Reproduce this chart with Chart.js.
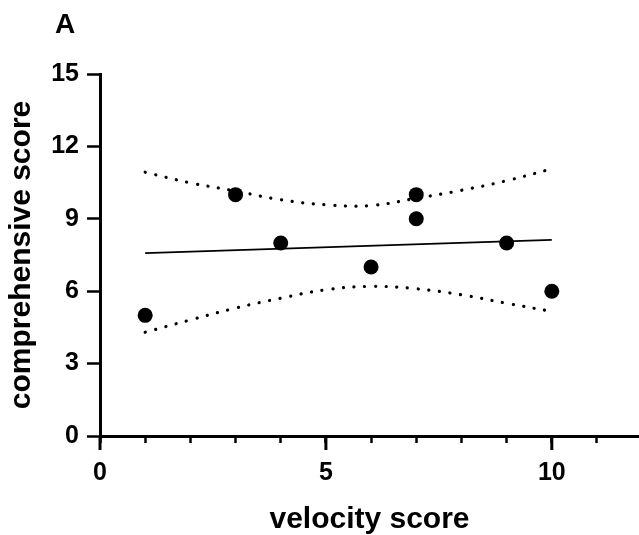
<!DOCTYPE html>
<html>
<head>
<meta charset="utf-8">
<script src="https://cdn.jsdelivr.net/npm/chart.js@4"></script>
<style>
  html, body { margin: 0; padding: 0; background: #fff; }
  canvas { display: block; }
</style>
</head>
<body>
<canvas id="chart" width="639" height="535"></canvas>
<script>
    // observed scores
    const velocity = [1, 3, 4, 6, 7, 7, 9, 10];
    const comprehensive = [5, 10, 8, 7, 10, 9, 8, 6];

    // fitted line
    const fitX = [1, 10];
    const fitY = [7.58, 8.13];

    // dotted bands
    const bandX = [1, 2, 3, 4, 5, 6, 7, 8, 9, 10];
    const upperBand = [10.93, 10.49, 10.15, 9.79, 9.58, 9.55, 9.85, 10.18, 10.58, 11.07];
    const lowerBand = [4.3, 4.81, 5.3, 5.71, 6.06, 6.2, 6.1, 5.85, 5.5, 5.16];

    const majorX = [0, 5, 10];
    const font = "'Liberation Sans', Arial, sans-serif";

    const pts = (xs, ys) => xs.map((x, i) => ({ x, y: ys[i] }));

    const band = (data) => ({
      data, showLine: true, pointRadius: 0, borderColor: "#000", borderWidth: 3.2,
      borderDash: [0.1, 10.6], borderCapStyle: "round", tension: 0.4, fill: false
    });

    const extras = {
      id: "extras",
      afterDraw(chart) {
        const { ctx, chartArea, scales } = chart;
        ctx.save();
        ctx.strokeStyle = "#000";
        ctx.lineWidth = 3;
        majorX.forEach(v => {
          const px = scales.x.getPixelForValue(v);
          ctx.beginPath();
          ctx.moveTo(px, chartArea.bottom);
          ctx.lineTo(px, chartArea.bottom + 14);
          ctx.stroke();
        });
        ctx.fillStyle = "#000";
        ctx.font = "bold 28px " + font;
        ctx.textBaseline = "alphabetic";
        ctx.fillText("A", 55, 33);
        ctx.restore();
      }
    };

    new Chart(document.getElementById("chart"), {
      type: "scatter",
      data: {
        datasets: [
          { data: pts(velocity, comprehensive), pointRadius: 7.5, pointBackgroundColor: "#000", pointBorderWidth: 0 },
          { data: pts(fitX, fitY), showLine: true, pointRadius: 0, borderColor: "#000", borderWidth: 1.8 },
          band(pts(bandX, upperBand)),
          band(pts(bandX, lowerBand))
        ]
      },
      options: {
        responsive: false,
        animation: false,
        layout: { autoPadding: false, padding: { left: 0, right: 0, top: 74, bottom: 0 } },
        plugins: { legend: { display: false }, tooltip: { enabled: false } },
        scales: {
          x: {
            type: "linear", min: 0, max: 11.93,
            afterFit: s => { s.height = 99; s.paddingLeft = 0; s.paddingRight = 0; },
            border: { color: "#000", width: 3 },
            grid: { drawOnChartArea: false, tickLength: 7, tickWidth: 2.5, tickColor: "#000" },
            ticks: {
              stepSize: 1, includeBounds: false, autoSkip: false, maxRotation: 0, padding: 15,
              color: "#000", font: { family: font, size: 25, weight: "bold" },
              callback: v => v % 5 === 0 ? v : ""
            },
            title: {
              display: true, text: "velocity score", color: "#000",
              font: { family: font, size: 30, weight: "bold" }, padding: { top: 0, bottom: -3 }
            }
          },
          y: {
            type: "linear", min: 0, max: 15,
            afterFit: s => { s.width = 100; },
            border: { color: "#000", width: 3 },
            grid: { drawOnChartArea: false, tickLength: 13, tickWidth: 2.5, tickColor: "#000" },
            ticks: {
              stepSize: 3, padding: 8,
              color: "#000", font: { family: font, size: 25, weight: "bold" }
            },
            title: {
              display: true, text: "comprehensive score", color: "#000",
              font: { family: font, size: 30, weight: "bold" }, padding: { top: 4, bottom: 0 }
            }
          }
        }
      },
      plugins: [extras]
    });
</script>
</body>
</html>
